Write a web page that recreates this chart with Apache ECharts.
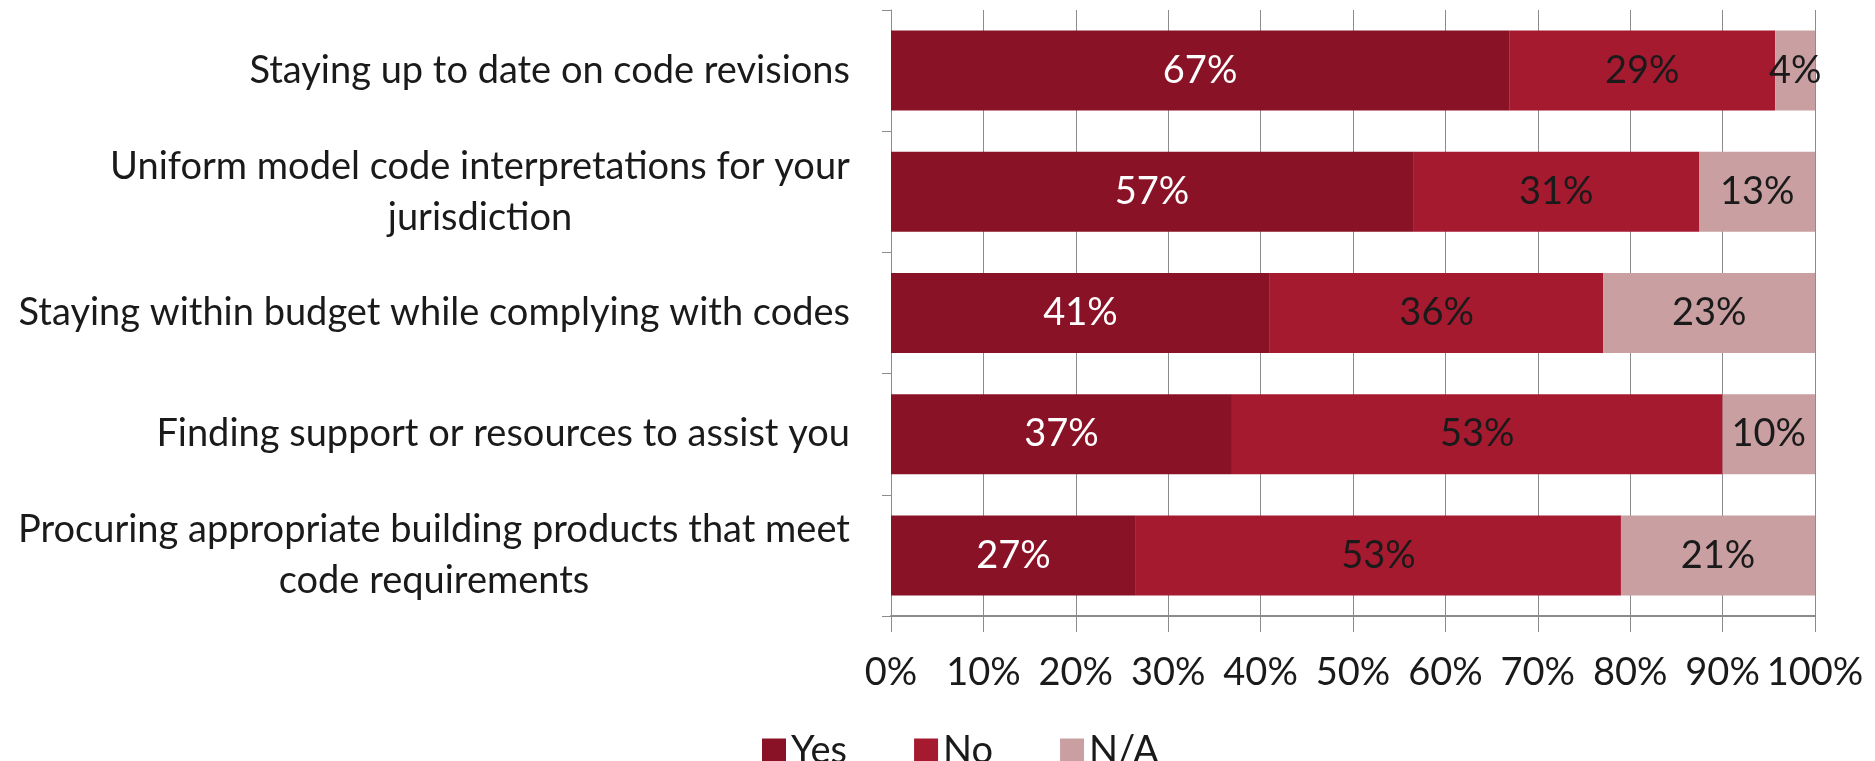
<!DOCTYPE html>
<html>
<head>
<meta charset="utf-8">
<script src="https://cdn.jsdelivr.net/npm/echarts@6/dist/echarts.min.js"></script>
<style>
	html, body {margin: 0; padding: 0; background: #fff;}
	#chart_main {width: 1875px; height: 761px;}
</style>
</head>
<body>
<div id="chart_main"></div>
<script>
var categories = [
	'Staying up to date on code revisions',
	'Uniform model code interpretations for your\njurisdiction',
	'Staying within budget while complying with codes',
	'Finding support or resources to assist you',
	'Procuring appropriate building products that meet\ncode requirements'
];
var yes_vals = [66.9, 56.5, 41.0, 36.9, 26.5];
var no_vals = [28.8, 31.0, 36.1, 53.1, 52.5];
var na_vals = [4.3, 12.5, 22.9, 10.0, 21.0];
var x_ticks = [0, 10, 20, 30, 40, 50, 60, 70, 80, 90, 100];
var legend_names = ['Yes', 'No', 'N/A'];

var font_family = 'Lato';
var font_size = 38;

// measure lines so the second line of a label gets centred under the first
var ctx = document.createElement('canvas').getContext('2d');
ctx.font = font_size + 'px ' + font_family;
var rich = {};
categories.forEach(function(name, i){
	var w = 0;
	name.split('\n').forEach(function(l){ w = Math.max(w, ctx.measureText(l).width); });
	rich['c' + i] = {width: Math.ceil(w), align: 'center', fontSize: font_size, fontFamily: font_family, color: '#1a1a1a', lineHeight: 51};
});

function bar_label(color){
	return {
		show: true, position: 'inside', color: color,
		fontSize: font_size, fontFamily: font_family,
		formatter: function(p){ return Math.round(p.value) + '%'; }
	};
}

var myChart = echarts.init(document.getElementById('chart_main'));

var options = {
	animation: false,
	color: ['#8A1226', '#A61A30', '#C99FA2'],
	textStyle: {fontFamily: font_family},
	legend: {
		data: legend_names, left: 762, top: 732, padding: 0,
		itemWidth: 24, itemHeight: 25, itemGap: 67,
		icon: 'rect',
		textStyle: {fontSize: font_size, fontFamily: font_family, color: '#1a1a1a', padding: [0, 0, 0, 0]}
	},
	grid: {left: 891, right: 60, top: 10, bottom: 145},
	xAxis: {
		type: 'value', min: 0, max: 100, interval: 10,
		axisLine: {show: true, lineStyle: {color: '#8c8c8c', width: 2}},
		axisTick: {show: true, length: 16, lineStyle: {color: '#8c8c8c'}},
		splitLine: {show: true, lineStyle: {color: '#8c8c8c', width: 1}},
		axisLabel: {
			fontSize: font_size, fontFamily: font_family, color: '#1a1a1a', margin: 38,
			customValues: x_ticks,
			formatter: '{value}%'
		}
	},
	yAxis: {
		type: 'category', data: categories, inverse: true,
		axisLine: {show: true, lineStyle: {color: '#8c8c8c', width: 1}},
		axisTick: {show: true, length: 9, lineStyle: {color: '#8c8c8c'}},
		axisLabel: {
			fontSize: font_size, fontFamily: font_family, color: '#1a1a1a', margin: 41,
			lineHeight: 51,
			formatter: function(value, index){
				var lines = value.split('\n');
				if (lines.length < 2) return value;
				return lines.map(function(l){ return '{c' + index + '|' + l + '}'; }).join('\n');
			},
			rich: rich
		}
	},
	series: [
		{name: 'Yes', type: 'bar', stack: 'all', data: yes_vals, barCategoryGap: '34%', label: bar_label('#ffffff')},
		{name: 'No', type: 'bar', stack: 'all', data: no_vals, label: bar_label('#1a1a1a')},
		{name: 'N/A', type: 'bar', stack: 'all', data: na_vals, label: bar_label('#1a1a1a')}
	]
};

myChart.setOption((options), true);
</script>
</body>
</html>
